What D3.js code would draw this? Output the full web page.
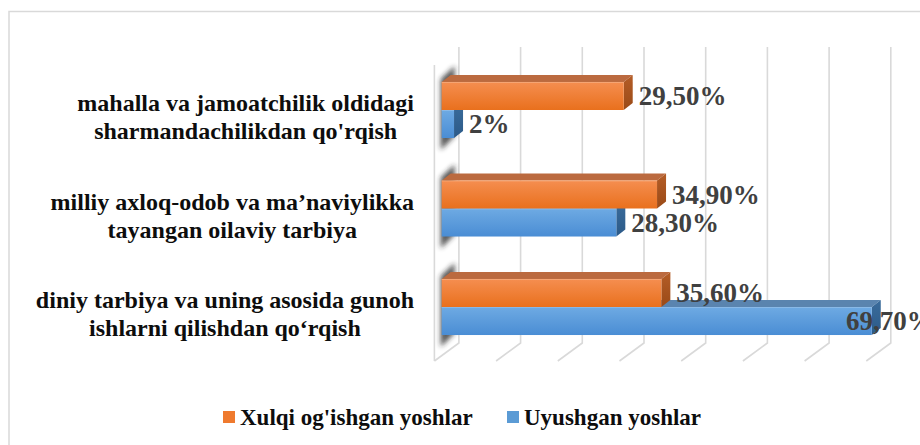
<!DOCTYPE html>
<html>
<head>
<meta charset="utf-8">
<script src="https://cdn.jsdelivr.net/npm/d3@7"></script>
<style>
  body { margin: 0; background: #fff; }
  svg { display: block; }
</style>
</head>
<body>
<div id="chart"></div>
<script>
// data (top category first)
var categories = [
  ["mahalla va jamoatchilik oldidagi", "sharmandachilikdan qo'rqish"],
  ["milliy axloq-odob va ma\u2019naviylikka", "tayangan oilaviy tarbiya"],
  ["diniy tarbiya va uning asosida gunoh", "ishlarni qilishdan qo\u2018rqish"]
]
var seriesNames = ["Xulqi og'ishgan yoshlar", "Uyushgan yoshlar"]
var xulqiValues = [29.5, 34.9, 35.6]
var uyushganValues = [2, 28.3, 69.7]
var xTicks = [0, 10, 20, 30, 40, 50, 60, 70]

var w = 920, h = 445
var fontFam = "'Liberation Serif', 'Times New Roman', serif"

var svg = d3.select("#chart").append("svg").attr("width", w).attr("height", h)

// frame of the chart area (runs off the right and bottom)
svg.append("rect")
  .attr("x", 9).attr("y", 11.5).attr("width", 940).attr("height", 460)
  .attr("fill", "none").attr("stroke", "#d9d9d9").attr("stroke-width", 1.5)

var defs = svg.append("defs")
function vGrad(id, c1, c2){
  var g = defs.append("linearGradient").attr("id", id)
    .attr("x1", 0).attr("y1", 0).attr("x2", 0).attr("y2", 1)
  g.append("stop").attr("offset", "0%").attr("stop-color", c1)
  g.append("stop").attr("offset", "100%").attr("stop-color", c2)
}
vGrad("orFront", "#f58e50", "#e9701d")
vGrad("orSide", "#b45d27", "#9a4a17")
vGrad("blFront", "#6eaae3", "#4a8dd4")
vGrad("blSide", "#3a6c9c", "#2c5a88")
defs.append("filter").attr("id", "blur").attr("x", "-50%").attr("y", "-50%")
  .attr("width", "200%").attr("height", "200%")
  .append("feGaussianBlur").attr("stdDeviation", 2.5)

// 3d geometry: front plane, bar offset and depth
var floorDx = 24.5, floorDy = -18
var barOffX = 7.3, barOffY = -5.4
var barDx = 9, barDy = -7

var xScale = d3.scaleLinear().domain([0, 70]).range([434.4, 434.4 + 6.17 * 70])
var yScale = d3.scaleBand().domain(d3.range(categories.length))
  .range([60.75 - barOffY, 356.25 - barOffY]).paddingInner(0.431).paddingOuter(0.2155)
var ySub = d3.scaleBand().domain([0, 1]).range([0, yScale.bandwidth()])

var floorFront = 361, topFront = 65

// gridlines on back wall + floor
var grid = svg.append("g").attr("stroke", "#d9d9d9").attr("stroke-width", 1.6).attr("fill", "none")
xTicks.forEach(function(t){
  var xb = xScale(t) + floorDx
  grid.append("path")
    .attr("d", "M" + xb + "," + (topFront + floorDy) + "L" + xb + "," + (floorFront + floorDy) +
      "L" + xScale(t) + "," + floorFront)
})
// front edge of left wall
grid.append("line")
  .attr("x1", xScale(0)).attr("x2", xScale(0)).attr("y1", topFront).attr("y2", floorFront)

var groups = categories.map(function(c, i){
  return { cat: c, i: i, vals: [xulqiValues[i], uyushganValues[i]] }
})

// dark shading at the left ends of the bars
svg.append("g").selectAll("path").data(groups).enter().append("path")
  .attr("d", function(d){
    var x0 = xScale(0) + barOffX
    var top = yScale(d.i) + barOffY, bot = top + yScale.bandwidth()
    return "M" + (x0 - 1) + "," + (top - 3) + "L" + (x0 + 13) + "," + (top - 16) +
      "L" + (x0 + 13) + "," + (bot - 2) + "L" + (x0 - 1) + "," + (bot + 12) + "Z"
  })
  .attr("fill", "#222").attr("opacity", 0.75).attr("filter", "url(#blur)")

var fills = [
  { front: "url(#orFront)", top: "#bb6a3f", side: "url(#orSide)", stroke: "#f6b58d" },
  { front: "url(#blFront)", top: "#5a84af", side: "url(#blSide)", stroke: "#9cc3ea" }
]

// draw the lower bar first so the upper one hides its top face
groups.forEach(function(g){
  [1, 0].forEach(function(s){
    var v = g.vals[s]
    var x0 = xScale(0) + barOffX
    var x1 = xScale(v) + barOffX
    var y0 = yScale(g.i) + barOffY + ySub(s)
    var y1 = y0 + ySub.bandwidth()
    var f = fills[s]
    svg.append("path")
      .attr("d", "M" + x0 + "," + y0 + "L" + (x0 + barDx) + "," + (y0 + barDy) +
        "L" + (x1 + barDx) + "," + (y0 + barDy) + "L" + x1 + "," + y0 + "Z")
      .attr("fill", f.top)
    svg.append("path")
      .attr("d", "M" + x1 + "," + y0 + "L" + (x1 + barDx) + "," + (y0 + barDy) +
        "L" + (x1 + barDx) + "," + (y1 + barDy) + "L" + x1 + "," + y1 + "Z")
      .attr("fill", f.side)
    svg.append("rect")
      .attr("x", x0).attr("y", y0).attr("width", x1 - x0).attr("height", y1 - y0)
      .attr("fill", f.front)
    svg.append("line")
      .attr("x1", x0).attr("x2", x1).attr("y1", y0 + 0.5).attr("y2", y0 + 0.5)
      .attr("stroke", f.stroke).attr("stroke-width", 1).attr("opacity", 0.6)
  })
})

// value labels (the longest one sits over the bar end, as in the original)
groups.forEach(function(g){
  [0, 1].forEach(function(s){
    var v = g.vals[s]
    var end = xScale(v) + barOffX + barDx
    var yc = yScale(g.i) + barOffY + ySub(s) + ySub.bandwidth() / 2
    var lx = Math.min(end + 6, w - 74)
    svg.append("text")
      .text(d3.format(".2f")(v).replace(".", ",").replace(",00", "") + "%")
      .attr("x", lx).attr("y", yc).attr("dy", "0.35em")
      .attr("font-family", fontFam).attr("font-weight", "bold")
      .attr("font-size", "27px").attr("fill", "#404040")
  })
})

// category labels, block right-aligned, lines centred
groups.forEach(function(g){
  var yc = yScale(g.i) + barOffY + yScale.bandwidth() / 2 + 7
  var t = svg.append("g")
  var texts = g.cat.map(function(line, k){
    return t.append("text").text(line)
      .attr("y", yc + (k - 0.5) * 28).attr("dy", "0.35em")
      .attr("font-family", fontFam).attr("font-weight", "bold")
      .attr("font-size", "24px").attr("fill", "#0d0d0d").attr("text-anchor", "middle")
  })
  var maxW = d3.max(texts, function(tx){ return tx.node().getComputedTextLength() })
  texts.forEach(function(tx){ tx.attr("x", 414 - maxW / 2) })
})

// legend
var colors = ["#ef7a2e", "#5b9bd5"]
var lg = svg.append("g")
var lx = [223, 507]
seriesNames.forEach(function(n, i){
  lg.append("rect").attr("x", lx[i]).attr("y", 411).attr("width", 12).attr("height", 12)
    .attr("fill", colors[i])
  lg.append("text").text(n).attr("x", lx[i] + 17).attr("y", 417).attr("dy", "0.35em")
    .attr("font-family", fontFam).attr("font-weight", "bold")
    .attr("font-size", "23px").attr("fill", "#0d0d0d")
})
</script>
</body>
</html>
